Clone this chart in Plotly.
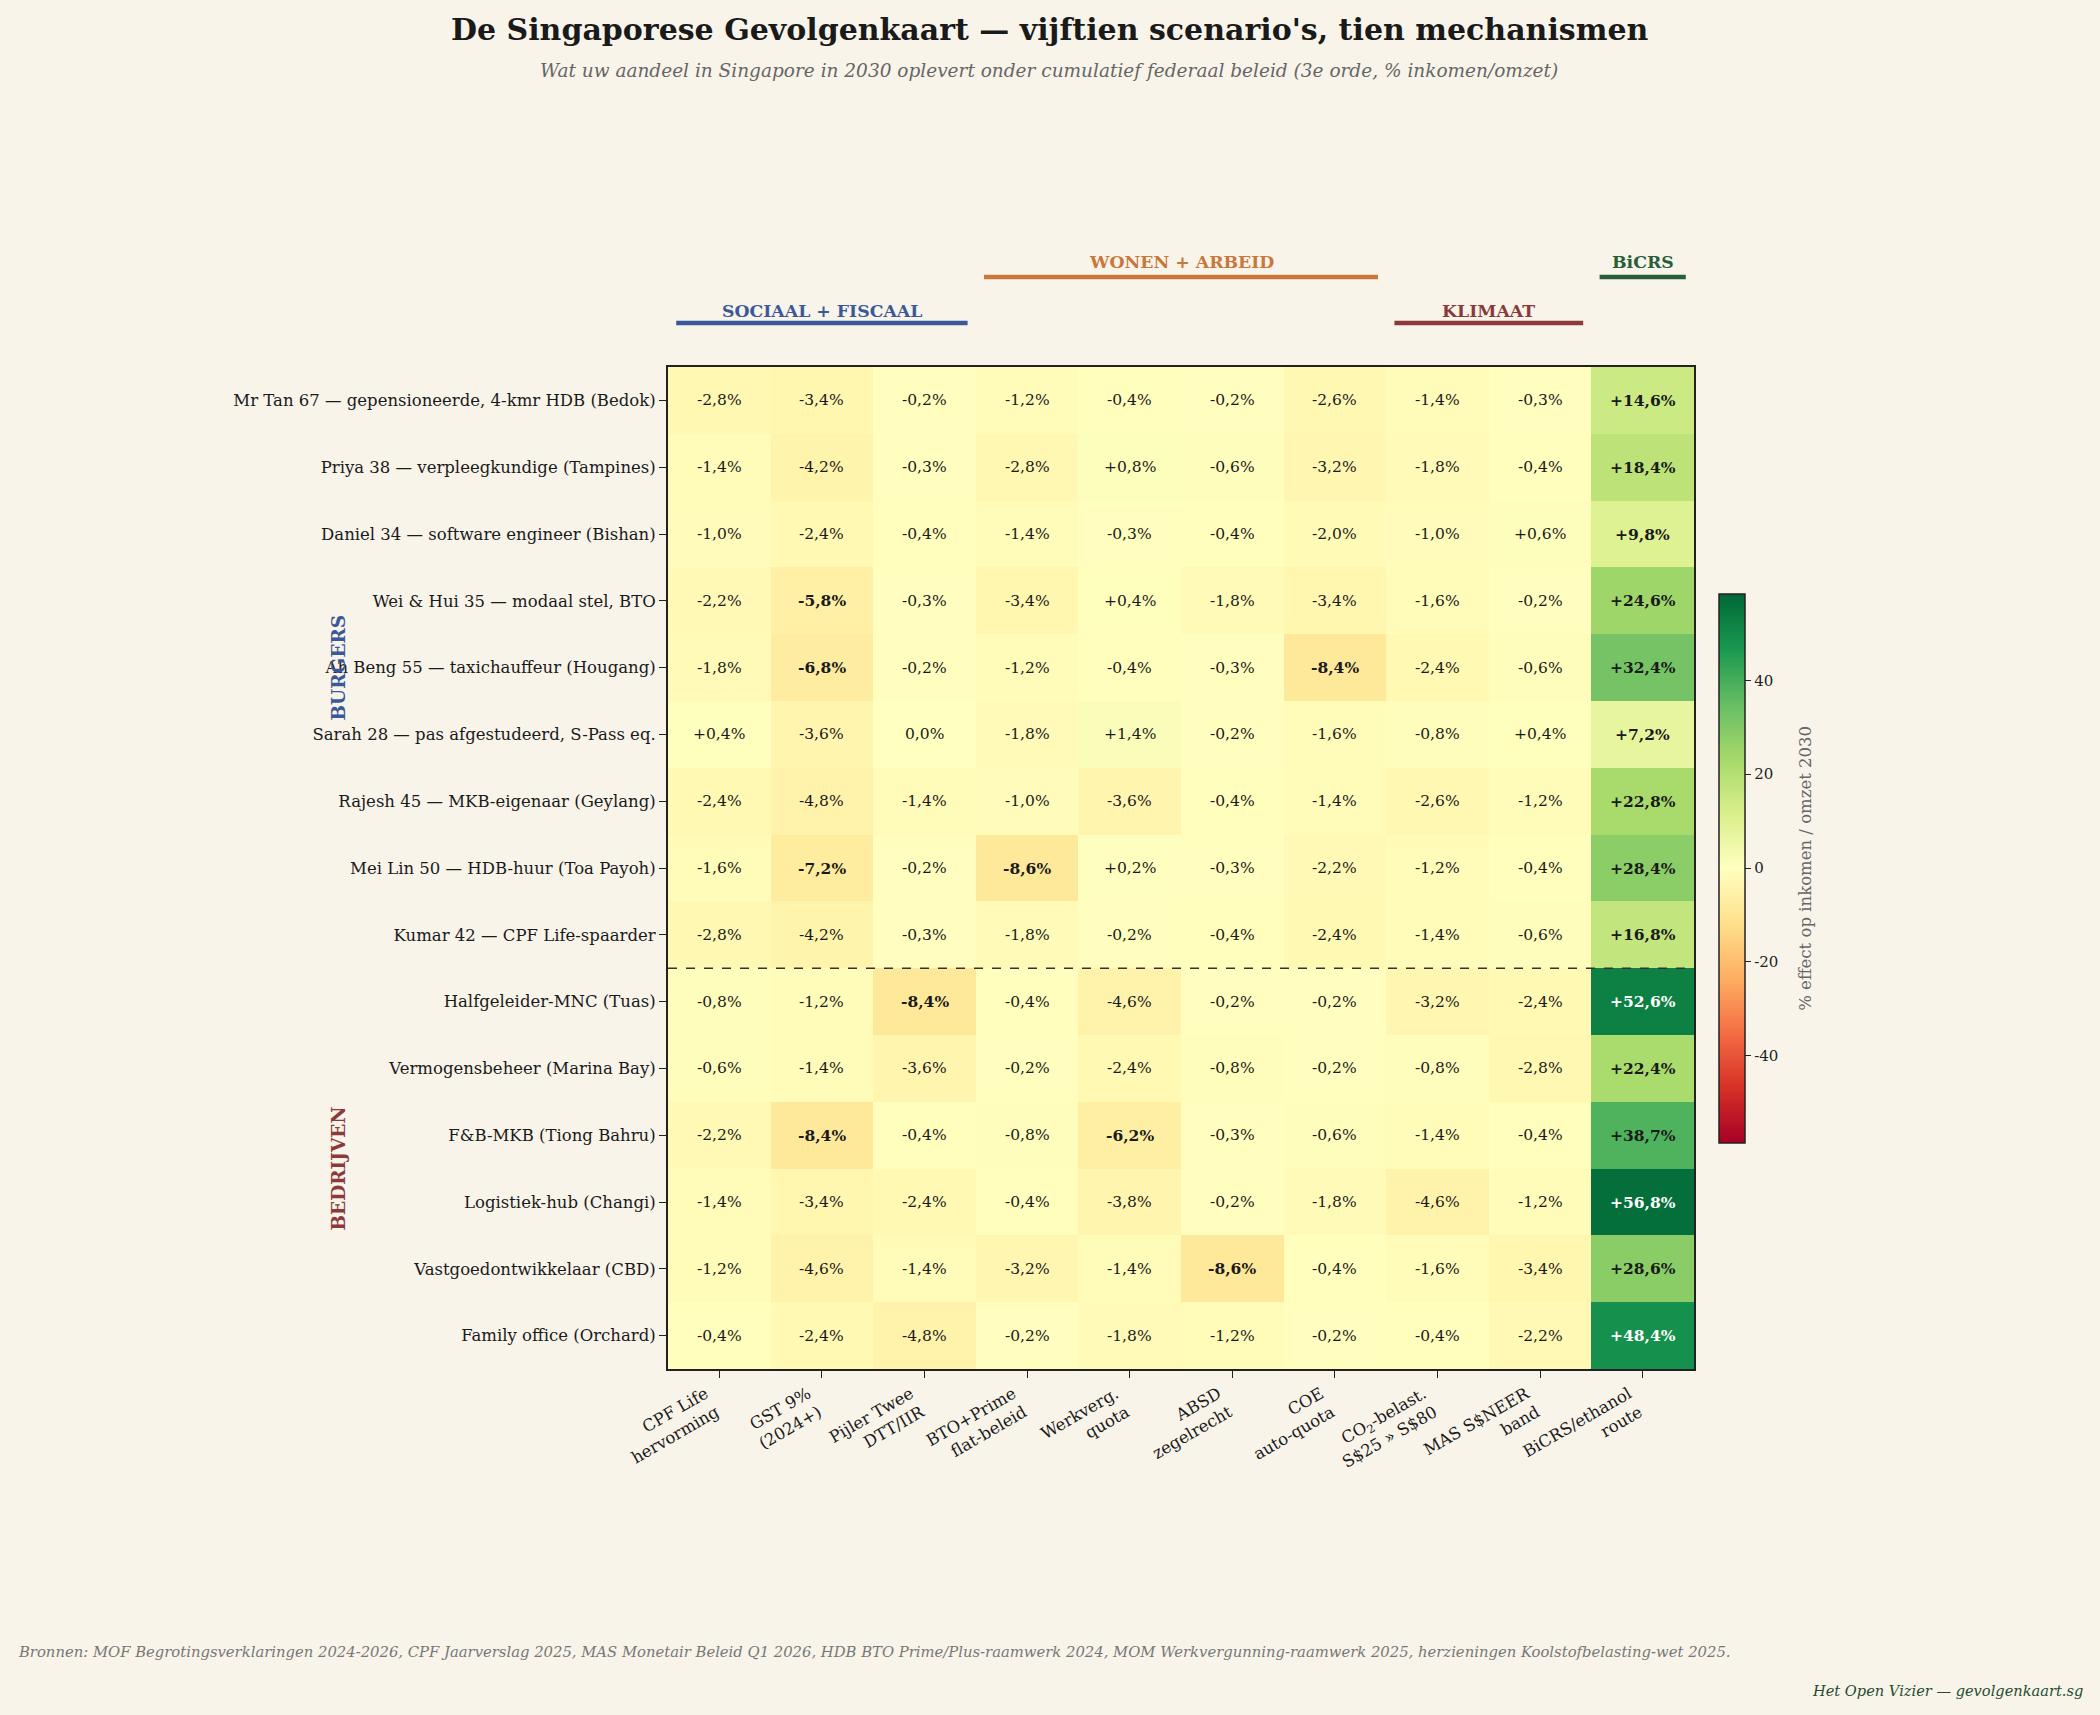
import plotly.graph_objects as go

columns = [
    "CPF Life<br>hervorming", "GST 9%<br>(2024+)", "Pijler Twee<br>DTT/IIR",
    "BTO+Prime<br>flat-beleid", "Werkverg.<br>quota", "ABSD<br>zegelrecht",
    "COE<br>auto-quota", "CO<sub>2</sub>-belast.<br>S$25 » S$80",
    "MAS S$NEER<br>band", "BiCRS/ethanol<br>route",
]
rows = [
    "Mr Tan 67 — gepensioneerde, 4-kmr HDB (Bedok)",
    "Priya 38 — verpleegkundige (Tampines)",
    "Daniel 34 — software engineer (Bishan)",
    "Wei & Hui 35 — modaal stel, BTO",
    "Ah Beng 55 — taxichauffeur (Hougang)",
    "Sarah 28 — pas afgestudeerd, S-Pass eq.",
    "Rajesh 45 — MKB-eigenaar (Geylang)",
    "Mei Lin 50 — HDB-huur (Toa Payoh)",
    "Kumar 42 — CPF Life-spaarder",
    "Halfgeleider-MNC (Tuas)",
    "Vermogensbeheer (Marina Bay)",
    "F&B-MKB (Tiong Bahru)",
    "Logistiek-hub (Changi)",
    "Vastgoedontwikkelaar (CBD)",
    "Family office (Orchard)",
]
values = [
    [-2.8, -3.4, -0.2, -1.2, -0.4, -0.2, -2.6, -1.4, -0.3, 14.6],
    [-1.4, -4.2, -0.3, -2.8, 0.8, -0.6, -3.2, -1.8, -0.4, 18.4],
    [-1.0, -2.4, -0.4, -1.4, -0.3, -0.4, -2.0, -1.0, 0.6, 9.8],
    [-2.2, -5.8, -0.3, -3.4, 0.4, -1.8, -3.4, -1.6, -0.2, 24.6],
    [-1.8, -6.8, -0.2, -1.2, -0.4, -0.3, -8.4, -2.4, -0.6, 32.4],
    [0.4, -3.6, 0.0, -1.8, 1.4, -0.2, -1.6, -0.8, 0.4, 7.2],
    [-2.4, -4.8, -1.4, -1.0, -3.6, -0.4, -1.4, -2.6, -1.2, 22.8],
    [-1.6, -7.2, -0.2, -8.6, 0.2, -0.3, -2.2, -1.2, -0.4, 28.4],
    [-2.8, -4.2, -0.3, -1.8, -0.2, -0.4, -2.4, -1.4, -0.6, 16.8],
    [-0.8, -1.2, -8.4, -0.4, -4.6, -0.2, -0.2, -3.2, -2.4, 52.6],
    [-0.6, -1.4, -3.6, -0.2, -2.4, -0.8, -0.2, -0.8, -2.8, 22.4],
    [-2.2, -8.4, -0.4, -0.8, -6.2, -0.3, -0.6, -1.4, -0.4, 38.7],
    [-1.4, -3.4, -2.4, -0.4, -3.8, -0.2, -1.8, -4.6, -1.2, 56.8],
    [-1.2, -4.6, -1.4, -3.2, -1.4, -8.6, -0.4, -1.6, -3.4, 28.6],
    [-0.4, -2.4, -4.8, -0.2, -1.8, -1.2, -0.2, -0.4, -2.2, 48.4],
]
groups = [
    ("SOCIAAL + FISCAAL", 0, 2, "#3b5998", 0),
    ("WONEN + ARBEID", 3, 6, "#c8783a", 1),
    ("KLIMAAT", 7, 8, "#8b3a3a", 0),
    ("BiCRS", 9, 9, "#2a5e3b", 1),
]
row_groups = [("BURGERS", 0, 8, "#3b5998"), ("BEDRIJVEN", 9, 14, "#8b3a3a")]
cbar_ticks = [-40, -20, 0, 20, 40]
VMAX = 58.5

FONT = "DejaVu Serif"
BG = "#f8f4ea"

def fmt(v):
    s = f"{abs(v):.1f}".replace(".", ",")
    if v > 0:
        return "+" + s + "%"
    if v < 0:
        return "-" + s + "%"
    return s + "%"

nx, ny = len(columns), len(rows)
fig = go.Figure(go.Heatmap(
    z=values, x=list(range(nx)), y=list(range(ny)),
    colorscale="RdYlGn", zmin=-VMAX, zmax=VMAX, showscale=True,
    colorbar=dict(
        x=1.0244, xanchor="left", y=0.5, yanchor="middle", len=0.548,
        xpad=0, ypad=0,
        thickness=26, outlinecolor="#222", outlinewidth=1.5,
        tickvals=cbar_ticks, ticktext=[str(t) for t in cbar_ticks],
        ticks="outside", ticklen=6,
        tickcolor="#222", tickfont=dict(family=FONT, size=15, color="#222"),
    ),
    hoverinfo="skip",
))

ann = []
for i, row in enumerate(values):
    for j, v in enumerate(row):
        bold = abs(v) >= 5 or j == nx - 1
        txt = fmt(v)
        if bold:
            txt = "<b>" + txt + "</b>"
        ann.append(dict(x=j, y=i, xref="x", yref="y", text=txt, showarrow=False,
                        font=dict(family=FONT, size=15.5,
                                  color="white" if v >= 40 else "#1a1a1a")))

shapes = []
for name, a, b, col, lvl in groups:
    yl = 1.0898 if lvl == 1 else 1.0439
    yt = 1.1048 if lvl == 1 else 1.0559
    shapes.append(dict(type="line", xref="x", yref="paper", x0=a - 0.42, x1=b + 0.42,
                       y0=yl, y1=yl, line=dict(color=col, width=4.5)))
    ann.append(dict(x=(a + b) / 2, y=yt, xref="x", yref="paper", text=f"<b>{name}</b>",
                    showarrow=False, yanchor="middle",
                    font=dict(family=FONT, size=17.3, color=col)))

shapes.append(dict(type="line", xref="paper", yref="y", x0=0, x1=1, y0=8.5, y1=8.5,
                   line=dict(color="#333", width=1.5, dash="dash")))

for name, a, b, col in row_groups:
    ann.append(dict(x=-0.3207, y=(a + b) / 2, xref="paper", yref="y", text=f"<b>{name}</b>",
                    showarrow=False, textangle=-90, xanchor="center", yanchor="middle",
                    font=dict(family=FONT, size=18.5, color=col)))

ann.append(dict(x=0.3714, y=1.337, xref="paper", yref="paper",
                text="<b>De Singaporese Gevolgenkaart — vijftien scenario's, tien mechanismen</b>",
                showarrow=False, xanchor="center", yanchor="middle",
                font=dict(family=FONT, size=30, color="#1a1a1a")))
ann.append(dict(x=0.3714, y=1.2964, xref="paper", yref="paper",
                text="<i>Wat uw aandeel in Singapore in 2030 oplevert onder cumulatief federaal beleid (3e orde, % inkomen/omzet)</i>",
                showarrow=False, xanchor="center", yanchor="middle",
                font=dict(family=FONT, size=18.5, color="#666")))
ann.append(dict(x=-0.6355, y=-0.2824, xref="paper", yref="paper",
                text="<i>Bronnen: MOF Begrotingsverklaringen 2024-2026, CPF Jaarverslag 2025, MAS Monetair Beleid Q1 2026, HDB BTO Prime/Plus-raamwerk 2024, MOM Werkvergunning-raamwerk 2025, herzieningen Koolstofbelasting-wet 2025.</i>",
                showarrow=False, xanchor="left", yanchor="middle",
                font=dict(family=FONT, size=14.8, color="#777")))
ann.append(dict(x=1.3811, y=-0.3204, xref="paper", yref="paper",
                text="<i>Het Open Vizier — gevolgenkaart.sg</i>",
                showarrow=False, xanchor="right", yanchor="middle",
                font=dict(family=FONT, size=14.6, color="#1f4d2f")))
ann.append(dict(x=1.108, y=0.5, xref="paper", yref="paper",
                text="% effect op inkomen / omzet 2030", textangle=-90,
                showarrow=False, xanchor="center", yanchor="middle",
                font=dict(family=FONT, size=16.5, color="#666")))

fig.update_layout(
    width=2100, height=1715,
    margin=dict(l=668, r=406, t=367, b=346, autoexpand=False),
    paper_bgcolor=BG, plot_bgcolor=BG,
    annotations=ann, shapes=shapes,
    font=dict(family=FONT, color="#1a1a1a"),
)
fig.update_xaxes(
    tickvals=list(range(nx)), ticktext=columns, tickangle=-30,
    range=[-0.5, nx - 0.5], showgrid=False, zeroline=False,
    showline=True, mirror=True, linecolor="#222", linewidth=2,
    ticks="outside", ticklen=7, tickcolor="#222", ticklabelshift=-14,
    tickfont=dict(family=FONT, size=16.5, color="#1a1a1a"),
)
fig.update_yaxes(
    tickvals=list(range(ny)), ticktext=rows, range=[ny - 0.5, -0.5],
    showgrid=False, zeroline=False,
    showline=True, mirror=True, linecolor="#222", linewidth=2,
    ticks="outside", ticklen=7, tickcolor="#222",
    tickfont=dict(family=FONT, size=16.5, color="#1a1a1a"),
)
fig.write_html("out.html")
